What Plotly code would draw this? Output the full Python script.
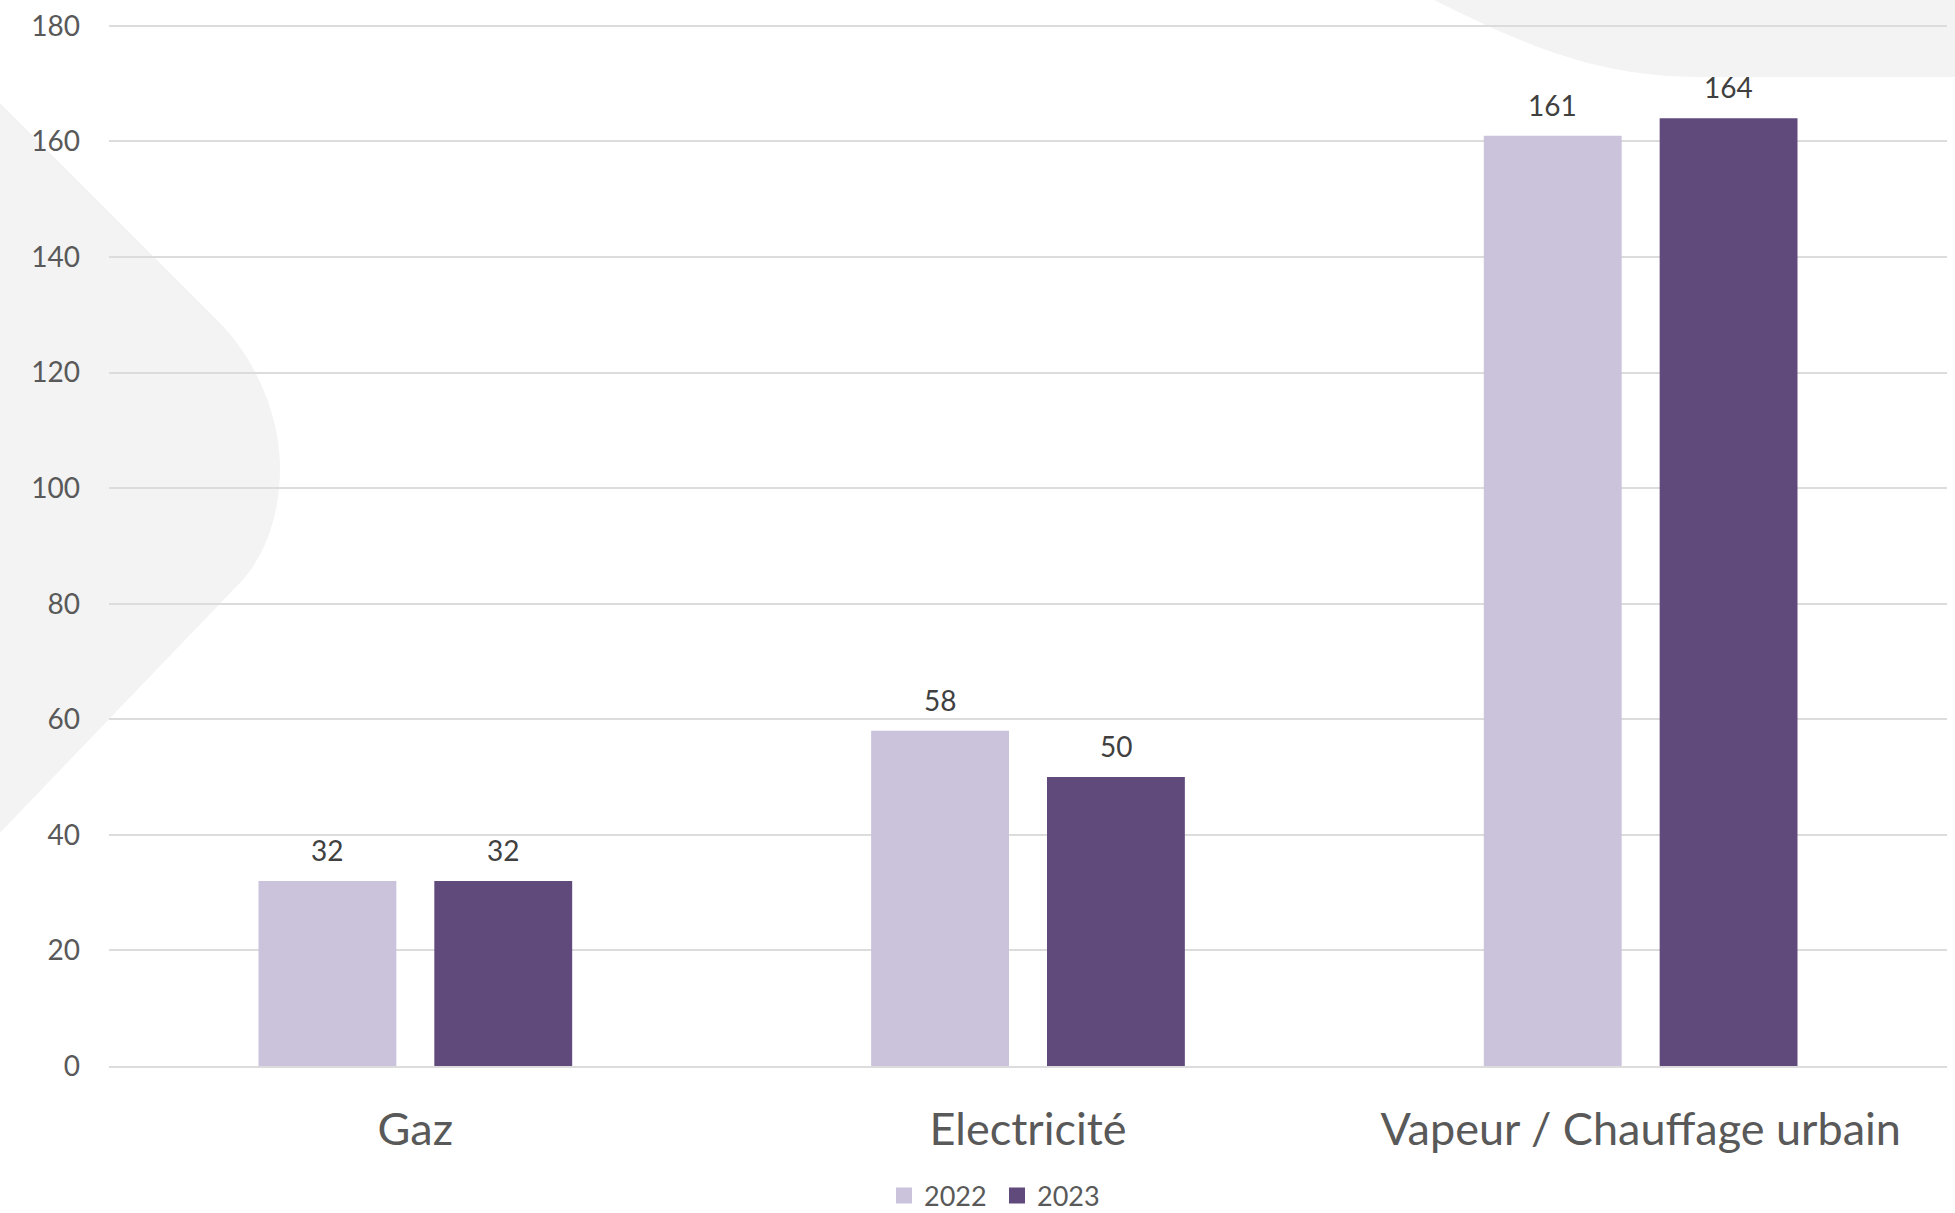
import plotly.graph_objects as go

# Energy consumption by source, two reporting years
categories = ["Gaz", "Electricité", "Vapeur / Chauffage urbain"]
years = ["2022", "2023"]
values_2022 = [32, 58, 161]
values_2023 = [32, 50, 164]
y_ticks = [0, 20, 40, 60, 80, 100, 120, 140, 160, 180]

colors = {"2022": "#CBC2DB", "2023": "#604A7B"}
text_grey = "#595959"
label_grey = "#404040"
grid_grey = "#DCDCDC"
blob_grey = "#F2F3F2"
font_family = "Lato, 'Open Sans', sans-serif"

W, H = 1955, 1213
M_L, M_R, M_T, M_B = 109, 8, 23, 147
PW, PH = W - M_L - M_R, H - M_T - M_B
Y_MAX = 180.5


def px(x, y):
    """Convert page pixels to paper coordinates of the plot area."""
    return (x - M_L) / PW, (H - M_B - y) / PH


def path(cmds):
    out = []
    for cmd, pts in cmds:
        coords = " ".join(f"{px(x, y)[0]:.5f},{px(x, y)[1]:.5f}" for x, y in pts)
        out.append(f"{cmd} {coords}")
    return " ".join(out) + " Z"


fig = go.Figure()

series = [("2022", values_2022), ("2023", values_2023)]
for name, vals in series:
    fig.add_trace(go.Bar(
        x=categories, y=vals, name=name,
        marker=dict(color=colors[name], line=dict(width=0)),
        showlegend=False, hoverinfo="x+y",
    ))
    # square legend swatch
    fig.add_trace(go.Scatter(
        x=[None], y=[None], mode="markers", name=name,
        marker=dict(symbol="square", size=17, color=colors[name]),
    ))

# value labels above each bar
bargap, bargroupgap = 0.426, 0.216
slot = (1 - bargap) / len(series)
annotations = []
for k, (name, vals) in enumerate(series):
    offset = -(1 - bargap) / 2 + slot * (k + 0.5)
    for i, v in enumerate(vals):
        annotations.append(dict(
            x=i + offset, y=v, xref="x", yref="y", text=str(v),
            showarrow=False, yanchor="bottom", yshift=12,
            font=dict(family=font_family, size=28, color=label_grey),
        ))

# soft decorative background blobs
shapes = [
    dict(type="path", xref="paper", yref="paper", layer="below",
         fillcolor=blob_grey, line=dict(width=0),
         path=path([
             ("M", [(-5, 98)]),
             ("L", [(217, 320)]),
             ("C", [(250, 352), (281, 410), (280, 471)]),
             ("C", [(279, 525), (260, 565), (233, 590)]),
             ("L", [(-5, 838)]),
         ])),
    dict(type="path", xref="paper", yref="paper", layer="below",
         fillcolor=blob_grey, line=dict(width=0),
         path=path([
             ("M", [(1434, -5)]),
             ("L", [(1434, 0)]),
             ("C", [(1530, 48), (1600, 77), (1700, 77)]),
             ("L", [(1960, 77)]),
             ("L", [(1960, -5)]),
         ])),
]

fig.update_layout(
    width=W, height=H,
    margin=dict(l=M_L, r=M_R, t=M_T, b=M_B, pad=0, autoexpand=False),
    paper_bgcolor="white", plot_bgcolor="rgba(0,0,0,0)",
    barmode="group", bargap=bargap, bargroupgap=bargroupgap,
    font=dict(family=font_family, color=text_grey),
    shapes=shapes, annotations=annotations,
    legend=dict(
        orientation="h", x=997 / W, xanchor="center", xref="container",
        y=1 - 1196 / H, yanchor="middle", yref="container",
        entrywidth=68, entrywidthmode="pixels",
        tracegroupgap=0, borderwidth=0,
        font=dict(family=font_family, size=27, color=text_grey),
        bgcolor="rgba(0,0,0,0)", itemclick=False,
    ),
    xaxis=dict(
        type="category", showgrid=False, zeroline=False,
        showline=True, linecolor=grid_grey, linewidth=2,
        ticks="", ticklabelstandoff=23, automargin=False,
        tickfont=dict(family=font_family, size=45, color=text_grey),
        fixedrange=True,
    ),
    yaxis=dict(
        range=[0, Y_MAX], tickvals=y_ticks, ticktext=[str(t) for t in y_ticks],
        showgrid=True, gridcolor=grid_grey, gridwidth=2,
        zeroline=False, showline=False, ticks="", automargin=False,
        ticklabelstandoff=28,
        tickfont=dict(family=font_family, size=28, color=text_grey),
        fixedrange=True,
    ),
)

fig.write_html("out.html")
